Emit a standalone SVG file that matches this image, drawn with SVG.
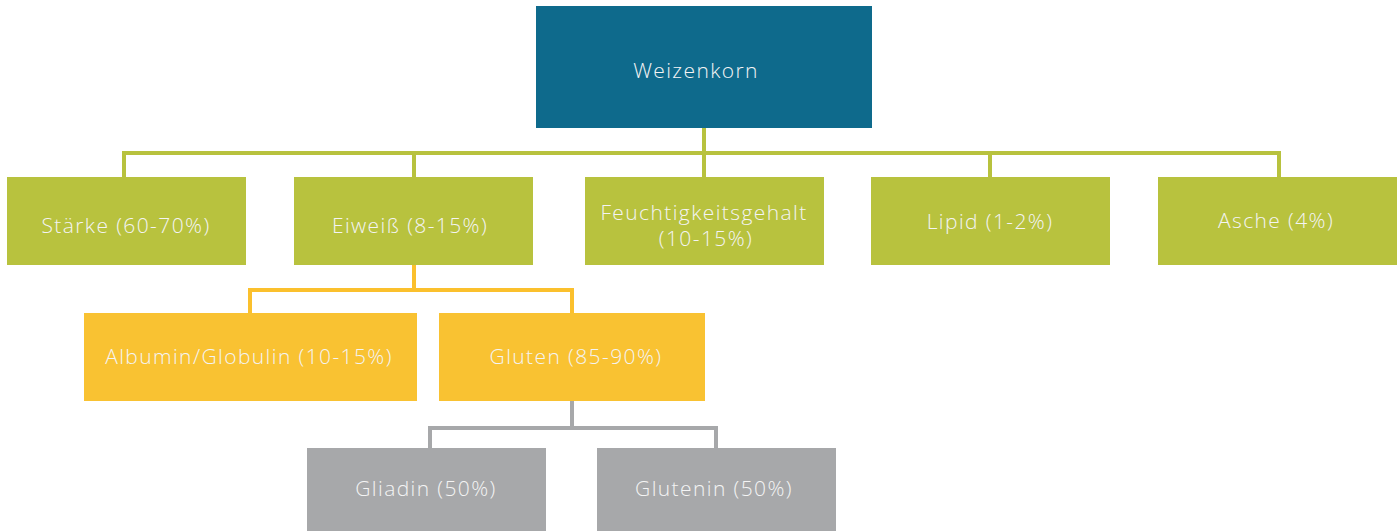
<svg xmlns="http://www.w3.org/2000/svg" width="1397" height="531" viewBox="0 0 1397 531">
<style>
.t{font-family:"Open Sans","Liberation Sans",sans-serif;font-size:21px;font-weight:300;fill:#F4F4F4;text-anchor:middle;dominant-baseline:central;letter-spacing:1.4px}
.root{fill:#0E6A8C}
.g{fill:#B8C23E}
.o{fill:#F9C232}
.gr{fill:#A7A8AA}
.cg{stroke:#B8C23E;stroke-width:4;fill:none}
.co{stroke:#FBC02D;stroke-width:4;fill:none}
.cgr{stroke:#A7A8AA;stroke-width:4;fill:none}
</style>
<rect width="1397" height="531" fill="#FFFFFF"/>
<g id="connectors">
<path class="cg" d="M704 128V153M124 177V153H1279V177M414 153V177M704 153V177M990 153V177"/>
<path class="co" d="M414 265V290M250 313V290H572V313"/>
<path class="cgr" d="M572 401V428M430 448V428H716V448"/>
</g>
<g id="weizenkorn"><rect class="root" x="536" y="6" width="336" height="122"/><text class="t" x="696" y="70">Weizenkorn</text></g>
<g id="staerke"><rect class="g" x="7" y="177" width="239" height="88"/><text class="t" x="126" y="225">Stärke (60-70%)</text></g>
<g id="eiweiss"><rect class="g" x="294" y="177" width="239" height="88"/><text class="t" x="410" y="225">Eiweiß (8-15%)</text></g>
<g id="feuchtigkeit"><rect class="g" x="585" y="177" width="239" height="88"/><text class="t" x="704" y="212">Feuchtigkeitsgehalt</text><text class="t" x="706" y="238">(10-15%)</text></g>
<g id="lipid"><rect class="g" x="871" y="177" width="239" height="88"/><text class="t" x="990" y="221">Lipid (1-2%)</text></g>
<g id="asche"><rect class="g" x="1158" y="177" width="239" height="88"/><text class="t" x="1276" y="220">Asche (4%)</text></g>
<g id="albumin"><rect class="o" x="84" y="313" width="333" height="88"/><text class="t" x="249" y="356">Albumin/Globulin (10-15%)</text></g>
<g id="gluten"><rect class="o" x="439" y="313" width="266" height="88"/><text class="t" x="576" y="356">Gluten (85-90%)</text></g>
<g id="gliadin"><rect class="gr" x="307" y="448" width="239" height="83"/><text class="t" x="426" y="488">Gliadin (50%)</text></g>
<g id="glutenin"><rect class="gr" x="597" y="448" width="239" height="83"/><text class="t" x="714" y="488">Glutenin (50%)</text></g>
</svg>
